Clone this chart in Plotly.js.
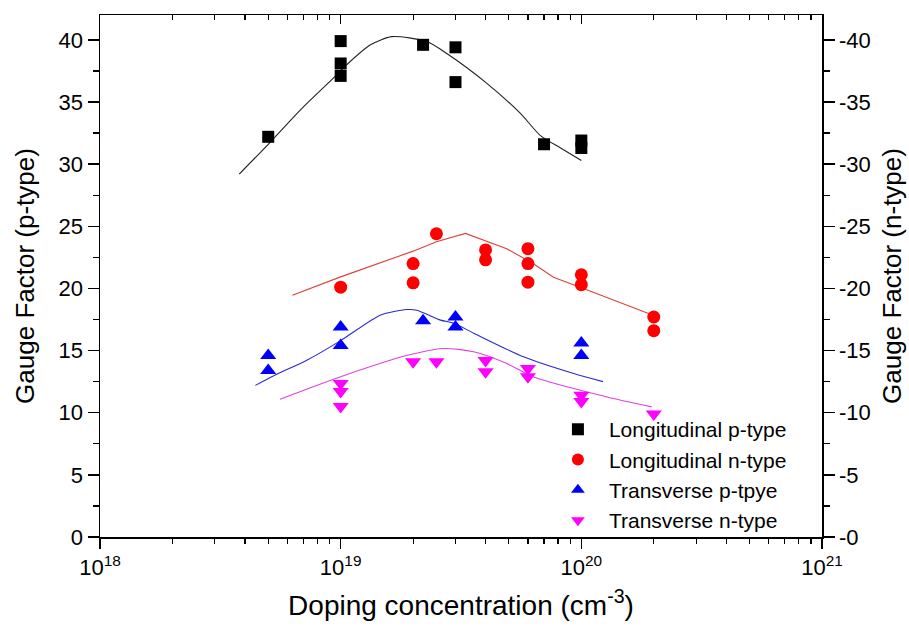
<!DOCTYPE html>
<html>
<head>
<meta charset="utf-8">
<script src="https://cdn.plot.ly/plotly-3.0.1.min.js"></script>
<style>html,body{margin:0;padding:0;background:#fff;}#chart{width:909px;height:633px;}</style>
</head>
<body>
<div id="chart"></div>
<script>
// Longitudinal p-type (black squares)
const lpX = [5e18, 1e19, 1e19, 1e19, 2.2e19, 3e19, 3e19, 7e19, 1e20, 1e20];
const lpY = [32.2, 39.9, 38.1, 37.1, 39.6, 39.4, 36.6, 31.6, 31.9, 31.3];
const lpFitX = [3.79e18, 5e18, 7e18, 9.3e18, 1.06e19, 1.33e19, 1.63e19, 2.28e19, 2.76e19, 4.05e19, 5.57e19, 6.76e19, 8.2e19, 1e20];
const lpFitY = [29.2, 31.6, 34.6, 36.9, 38.0, 39.6, 40.26, 39.86, 38.9, 36.5, 34.1, 32.3, 31.3, 30.3];

// Longitudinal n-type (red circles)
const lnX = [1e19, 2e19, 2e19, 2.5e19, 4e19, 4e19, 6e19, 6e19, 6e19, 1e20, 1e20, 2e20, 2e20];
const lnY = [20.1, 22.0, 20.45, 24.4, 23.1, 22.3, 23.2, 22.0, 20.5, 21.1, 20.3, 17.7, 16.6];
const lnFitX = [6.3e18, 1e19, 2e19, 2.5e19, 3.3e19, 4.9e19, 6.3e19, 7.66e19, 1.02e20, 1.95e20];
const lnFitY = [19.46, 20.93, 23.0, 23.75, 24.43, 23.2, 22.0, 20.9, 20.0, 17.9];

// Transverse p-type (blue up triangles)
const tpX = [5e18, 5e18, 1e19, 1e19, 2.2e19, 3e19, 3e19, 1e20, 1e20];
const tpY = [14.6, 13.4, 16.9, 15.4, 17.4, 17.7, 16.9, 15.6, 14.6];
const tpFitX = [4.42e18, 5.3e18, 7.2e18, 1e19, 1.46e19, 1.88e19, 2.07e19, 2.6e19, 2.95e19, 3.57e19, 5.75e19, 9.3e19, 1.23e20];
const tpFitY = [12.2, 13.0, 14.2, 15.8, 17.85, 18.3, 18.25, 17.45, 17.2, 16.4, 14.5, 13.15, 12.5];

// Transverse n-type (magenta down triangles)
const tnX = [1e19, 1e19, 1e19, 2e19, 2.5e19, 4e19, 4e19, 6e19, 6e19, 1e20, 1e20, 2e20];
const tnY = [12.35, 11.7, 10.5, 14.1, 14.1, 14.2, 13.3, 13.55, 12.9, 11.4, 10.9, 9.9];
const tnFitX = [5.6e18, 1e19, 1.88e19, 2.67e19, 3.57e19, 4.9e19, 6.3e19, 9.3e19, 1.28e20, 1.96e20];
const tnFitY = [11.09, 12.9, 14.6, 15.17, 14.9, 13.96, 12.9, 11.95, 11.27, 10.47];

const seriesNames = ["Longitudinal p-type", "Longitudinal n-type", "Transverse p-tpye", "Transverse n-type"];

// Axis ticks
const xTickVals = [1e18, 1e19, 1e20, 1e21];
const xTickText = ["10<sup>18</sup>", "10<sup>19</sup>", "10<sup>20</sup>", "10<sup>21</sup>"];
const xMinorVals = [];
[1e18, 1e19, 1e20].forEach(d => { for (let k = 2; k <= 9; k++) xMinorVals.push(k * d); });
const yTickVals = [0, 5, 10, 15, 20, 25, 30, 35, 40];
const yTickTextLeft = ["0", "5", "10", "15", "20", "25", "30", "35", "40"];
const yTickTextRight = ["-0", "-5", "-10", "-15", "-20", "-25", "-30", "-35", "-40"];

const FONT = "Liberation Sans, Arial, sans-serif";

function fit(x, y, color, shape) {
  return {x: x, y: y, type: "scatter", mode: "lines", line: {color: color, width: 1.1, shape: shape, smoothing: 0.7},
          showlegend: false, hoverinfo: "skip"};
}
function pts(x, y, name, symbol, color, size) {
  return {x: x, y: y, type: "scatter", mode: "markers", name: name,
          marker: {symbol: symbol, color: color, size: size, line: {width: 0}}};
}

const traces = [
  fit(lpFitX, lpFitY, "#222222", "spline"),
  fit(lnFitX, lnFitY, "#e0403a", "linear"),
  fit(tpFitX, tpFitY, "#2a2ad0", "spline"),
  fit(tnFitX, tnFitY, "#e040e0", "spline"),
  pts(lpX, lpY, seriesNames[0], "square", "#000000", 12),
  pts(lnX, lnY, seriesNames[1], "circle", "#ff0000", 13),
  pts(tpX, tpY, seriesNames[2], "triangle-up", "#0000ff", 14),
  pts(tnX, tnY, seriesNames[3], "triangle-down", "#ff00ff", 14),
  {x: [1e19], y: [null], xaxis: "x2", yaxis: "y2", type: "scatter", mode: "markers", showlegend: false, hoverinfo: "skip"}
];

const layout = {
  width: 909, height: 633,
  margin: {l: 100, r: 87, t: 15, b: 96},
  paper_bgcolor: "#ffffff", plot_bgcolor: "#ffffff",
  font: {family: FONT, color: "#000000"},
  showlegend: true,
  legend: {x: 0.619, y: 0.245, xanchor: "left", yanchor: "top", bgcolor: "rgba(0,0,0,0)",
           font: {size: 21, family: FONT}, tracegroupgap: 0, itemsizing: "constant", itemwidth: 52},
  xaxis: {
    type: "log", range: [18, 21],
    tickvals: xTickVals, ticktext: xTickText,
    ticks: "outside", ticklen: 10, tickwidth: 1.5, tickcolor: "#000",
    minor: {tickvals: xMinorVals, ticks: "outside", ticklen: 5, tickwidth: 1.2, tickcolor: "#000"},
    showline: true, linecolor: "#000", linewidth: 1.5, showgrid: false, zeroline: false,
    tickfont: {size: 22, family: FONT},
    title: {text: "Doping concentration (cm<sup>-3</sup>)", font: {size: 28, family: FONT}, standoff: 16}
  },
  xaxis2: {
    type: "log", range: [18, 21], overlaying: "x", side: "top", anchor: "y",
    tickvals: xTickVals, showticklabels: false,
    ticks: "inside", ticklen: 9, tickwidth: 1.5, tickcolor: "#000",
    minor: {tickvals: xMinorVals, ticks: "inside", ticklen: 5, tickwidth: 1.2, tickcolor: "#000"},
    showline: true, linecolor: "#000", linewidth: 1.5, showgrid: false, zeroline: false
  },
  yaxis: {
    range: [0, 42],
    tickvals: yTickVals, ticktext: yTickTextLeft,
    ticks: "outside", ticklen: 11, tickwidth: 1.5, tickcolor: "#000",
    minor: {dtick: 2.5, tick0: 0, ticks: "outside", ticklen: 6, tickwidth: 1.2, tickcolor: "#000"},
    showline: true, linecolor: "#000", linewidth: 1.5, showgrid: false, zeroline: false,
    tickfont: {size: 22, family: FONT},
    title: {text: "Gauge Factor (p-type)", font: {size: 26, family: FONT}, standoff: 16}
  },
  yaxis2: {
    range: [0, 42], overlaying: "y", side: "right", anchor: "x",
    tickvals: yTickVals, ticktext: yTickTextRight,
    ticks: "outside", ticklen: 11, tickwidth: 1.5, tickcolor: "#000",
    minor: {dtick: 2.5, tick0: 0, ticks: "outside", ticklen: 6, tickwidth: 1.2, tickcolor: "#000"},
    showline: true, linecolor: "#000", linewidth: 1.5, showgrid: false, zeroline: false,
    tickfont: {size: 22, family: FONT},
    title: {text: "Gauge Factor (n-type)", font: {size: 26, family: FONT}, standoff: 13}
  }
};

Plotly.newPlot("chart", traces, layout, {displayModeBar: false, staticPlot: true});
</script>
</body>
</html>
